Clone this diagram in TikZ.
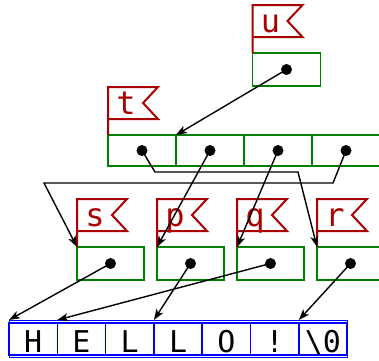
\documentclass[tikz,border=0pt]{standalone}
\usepackage{fontspec}
\newfontfamily\monofont{DejaVu Sans Mono}
\usetikzlibrary{arrows.meta,calc}
\definecolor{flagred}{RGB}{170,0,0}
\definecolor{boxgreen}{RGB}{0,128,0}
\definecolor{strblue}{RGB}{0,0,255}

% flag on top of a pointer box: #1 node, #2 name
\newcommand{\ptrflag}[2]{%
  \draw[flagline] (#1.north west) -- ++(0,-48) -- ++(50,0) -- ++(-15,16) -- ++(15,16) -- ++(-50,0);
  \node[flaglabel] (#1-name) at ($(#1.north west)+(18,-21)$) {#2};
}

\begin{document}
\begin{tikzpicture}[x=1pt,y=-1pt,
    ptr/.style={draw=boxgreen,line width=1.5pt,minimum width=67pt,minimum height=33pt,inner sep=0pt,outer sep=0pt},
    cell/.style={ptr,minimum width=68pt,minimum height=31pt},
    chr/.style={draw=strblue,line width=1.5pt,minimum width=48.3pt,minimum height=32pt,inner sep=0pt,outer sep=0pt,
      text height=26pt,text depth=0pt,font={\monofont\fontsize{30}{31}\selectfont}},
    flagline/.style={draw=flagred,line width=2pt},
    flaglabel/.style={text=flagred,anchor=base,inner sep=0pt,font={\monofont\fontsize{32}{33}\selectfont}},
    ref/.style={draw,line width=1.4pt,-{Stealth[length=11pt,width=8pt,inset=3pt]}}]
  \useasboundingbox (0,0) rectangle (379,360);
  \clip (0,0) rectangle (379,360);

  % pointer u and array t
  \node[ptr,minimum width=68pt] (u) at (286.5,69.5) {};
  \foreach \i in {0,...,3}
    \node[cell] (t\i) at ({142+68*\i},150.5) {};
  \ptrflag{u}{u}
  \ptrflag{t0}{t}

  % pointers s, p, q, r
  \node[ptr] (s) at (110.5,263.5) {};
  \node[ptr] (p) at (190.5,263.5) {};
  \node[ptr] (q) at (270.5,263.5) {};
  \node[ptr] (r) at (350.5,263.5) {};
  \ptrflag{s}{s}
  \ptrflag{p}{p}
  \ptrflag{q}{q}
  \ptrflag{r}{r}

  % the string
  \node[draw=strblue,line width=0.8pt,minimum width=338pt,minimum height=37.5pt,inner sep=0pt,outer sep=0pt] (str) at (178,338.75) {};
  \foreach \c [count=\i from 0] in {H,E,L,L,O,!,\textbackslash 0}
    \node[chr] (c\i) at ({33.15+48.3*\i},339) {\c};

  % references
  \draw[ref] (u.center) -- (t1.north west);
  \draw[ref] (t0.center) -- (155,172) -- (298,172) -- (r.north west);
  \draw[ref] (t1.center) -- (p.north west);
  \draw[ref] (t2.center) -- (q.north west);
  \draw[ref] (t3.center) -- (333,183) -- (44,183) -- (s.north west);
  \draw[ref] (s.center) -- (c0.north west |- str.north);
  \draw[ref] (p.center) -- (c3.north west |- str.north);
  \draw[ref] (q.center) -- (c1.north west |- str.north);
  \draw[ref] (r.center) -- (c6.north west |- str.north);

  \foreach \n in {u,t0,t1,t2,t3,s,p,q,r}
    \fill (\n.center) circle (5.5);
\end{tikzpicture}
\end{document}
